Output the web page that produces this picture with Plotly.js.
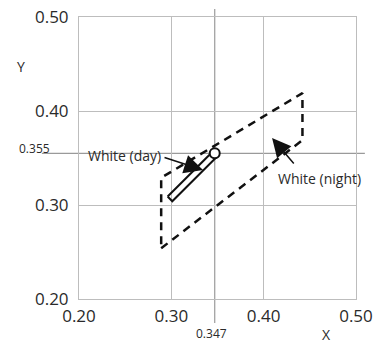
<!DOCTYPE html>
<html>
<head>
<meta charset="utf-8">
<script src="https://cdn.plot.ly/plotly-3.0.1.min.js"></script>
<style>html,body{margin:0;padding:0;background:#fff;}#chart{width:379px;height:344px;}</style>
</head>
<body>
<div id="chart"></div>
<script>
// ---- data ----
const tickVals = [0.2, 0.3, 0.4, 0.5];
const tickText = ['0.20', '0.30', '0.40', '0.50'];
const nightX = [0.289, 0.442, 0.442, 0.289, 0.289];
const nightY = [0.254, 0.369, 0.419, 0.329, 0.254];
const dayX = [0.296, 0.301, 0.351, 0.346, 0.296];
const dayY = [0.309, 0.304, 0.353, 0.358, 0.309];
const refX = [0.347];
const refY = [0.355];
const regionLabels = ['White (day)', 'White (night)'];
const refLabels = ['0.347', '0.355'];

const FONT = 'Open Sans, DejaVu Sans, sans-serif';
const TXT = '#2a2a2a';

const traces = [
  {x: nightX, y: nightY, mode: 'lines', line: {color: '#111', width: 2.5, dash: '8px,6px'}, hoverinfo: 'skip'},
  {x: dayX, y: dayY, mode: 'lines', line: {color: '#111', width: 2}, hoverinfo: 'skip'},
  {x: refX, y: refY, mode: 'markers', marker: {size: 10, color: '#fff', line: {color: '#111', width: 2}}, hoverinfo: 'skip'}
];

const axisCommon = {
  range: [0.2, 0.5], tickvals: tickVals, ticktext: tickText,
  showgrid: true, gridcolor: '#bdbdbd', gridwidth: 1,
  showline: true, linecolor: '#bdbdbd', linewidth: 1, mirror: true,
  zeroline: false, ticks: 'outside', ticklen: 6, tickcolor: 'rgba(0,0,0,0)',
  tickfont: {family: FONT, size: 17, color: TXT}, fixedrange: true
};

const layout = {
  width: 379, height: 344,
  margin: {l: 79, r: 23, t: 17, b: 45},
  paper_bgcolor: '#fff', plot_bgcolor: '#fff',
  showlegend: false,
  xaxis: Object.assign({}, axisCommon, {ticklen: 2}),
  yaxis: Object.assign({}, axisCommon),
  shapes: [
    {type: 'line', xref: 'x', yref: 'paper', x0: refX[0], x1: refX[0], y0: -0.085, y1: 1.028, line: {color: '#9a9a9a', width: 1.2}, layer: 'below'},
    {type: 'line', xref: 'paper', yref: 'y', x0: -0.134, x1: 1.032, y0: refY[0], y1: refY[0], line: {color: '#9a9a9a', width: 1.2}, layer: 'below'}
  ],
  annotations: [
    {xref: 'x', yref: 'y', x: 0.2498, y: 0.353, xanchor: 'center', yanchor: 'middle', text: regionLabels[0], showarrow: false, font: {family: FONT, size: 14, color: TXT}},
    {xref: 'x', yref: 'y', x: 0.46, y: 0.3277, xanchor: 'center', yanchor: 'middle', text: regionLabels[1], showarrow: false, font: {family: FONT, size: 14, color: TXT}},
    {xref: 'x', yref: 'y', x: 0.3343, y: 0.3372, axref: 'x', ayref: 'y', ax: 0.291, ay: 0.351, text: '', showarrow: true, arrowhead: 2, arrowsize: 2.5, arrowwidth: 1.5, arrowcolor: '#111'},
    {xref: 'x', yref: 'y', x: 0.4091, y: 0.3713, axref: 'x', ayref: 'y', ax: 0.434, ay: 0.3426, text: '', showarrow: true, arrowhead: 2, arrowsize: 2.5, arrowwidth: 1.5, arrowcolor: '#111'},
    {xref: 'x', yref: 'paper', x: refX[0], y: -0.123, xshift: -3, xanchor: 'center', yanchor: 'middle', text: refLabels[0], showarrow: false, font: {family: FONT, size: 12, color: TXT}},
    {xref: 'paper', yref: 'y', x: -0.097, y: refY[0], yshift: 5, xanchor: 'right', yanchor: 'middle', text: refLabels[1], showarrow: false, font: {family: FONT, size: 12, color: TXT}},
    {xref: 'paper', yref: 'paper', x: -0.209, y: 0.823, xanchor: 'center', yanchor: 'middle', text: 'Y', showarrow: false, font: {family: FONT, size: 14, color: TXT}},
    {xref: 'paper', yref: 'paper', x: 0.895, y: -0.125, xanchor: 'center', yanchor: 'middle', text: 'X', showarrow: false, font: {family: FONT, size: 14, color: TXT}}
  ]
};

Plotly.newPlot('chart', traces, layout, {displayModeBar: false, staticPlot: true});
</script>
</body>
</html>
